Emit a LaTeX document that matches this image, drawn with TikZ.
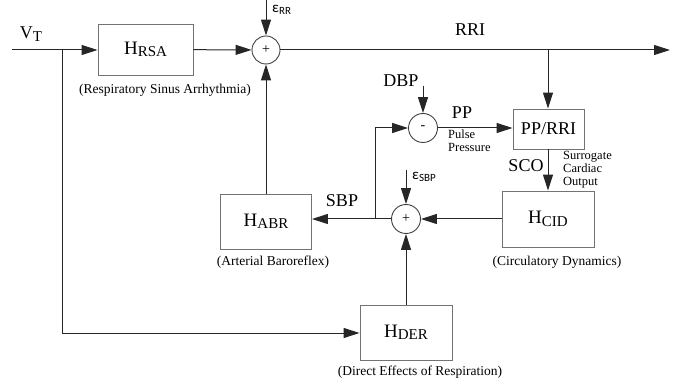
\documentclass[tikz,border=0pt]{standalone}
\usepackage{fontspec}
\setmainfont{Liberation Serif}
\newfontfamily\epsfont{Carlito}
\usetikzlibrary{arrows.meta}
\newcommand\blklbl[2]{#1\raisebox{-2.5pt}{\fontsize{15}{15}\selectfont #2}}
\newcommand\epslbl[1]{{\epsfont\fontsize{15}{15}\selectfont ε\raisebox{-2pt}{\fontsize{11}{11}\selectfont #1}}}
\begin{document}
\begin{tikzpicture}[x=1pt,y=-1pt,
  blk/.style={draw=black!55, line width=0.9pt, minimum width=92pt, minimum height=55pt, inner sep=0pt, font=\fontsize{19}{19}\selectfont},
  sumc/.style={circle, draw=black!75, line width=0.9pt, minimum size=29pt, inner sep=0pt, font=\fontsize{14}{14}\selectfont},
  conn/.style={draw=black!85, line width=1pt},
  arr/.style={conn, -{Triangle[length=16pt,width=10pt]}},
  captxt/.style={font=\fontsize{13.5}{13.5}\selectfont, inner sep=0pt},
  sig/.style={font=\fontsize{18}{18}\selectfont, inner sep=0pt},
  smalltxt/.style={font=\fontsize{12.5}{13}\selectfont, align=left, inner sep=0pt}
]
\useasboundingbox (0,0) rectangle (685,387);
% blocks
\node[blk, minimum width=95pt, minimum height=51pt] (hrsa) at (145.5,49.5) {\blklbl{H}{RSA}};
\node[sumc, minimum size=28pt] (s1) at (266,50) {+};
\node[sumc] (s3) at (423,128) {-};
\node[blk, minimum width=71pt, minimum height=40pt, font=\fontsize{18}{18}\selectfont] (pprri) at (548.5,129) {PP/RRI};
\node[sumc] (s2) at (406,219) {+};
\node[blk, minimum width=91pt] (habr) at (266,221.5) {\blklbl{H}{ABR}};
\node[blk, minimum width=92pt, minimum height=56pt] (hcid) at (548,219) {\blklbl{H}{CID}};
\node[blk] (hder) at (406,332.5) {\blklbl{H}{DER}};
% coordinates
\coordinate (vt) at (12,50);
\coordinate (br) at (62,50);
\coordinate (brd) at (62,333);
\coordinate (err) at (266,0);
\coordinate (rriend) at (670,50);
\coordinate (rribr) at (548,50);
\coordinate (dbp) at (423,86);
\coordinate (esbp) at (406,170);
\coordinate (sbpbr) at (375,219);
% connectors
\draw[arr] (vt) -- (vt -| hrsa.west);
\draw[conn] (br) -- (brd);
\draw[arr] (brd) -- (brd -| hder.west);
\draw[arr] (hrsa) -- (s1);
\draw[arr] (err) -- (s1);
\draw[arr] (s1) -- (rriend);
\draw[arr] (rribr) -- (rribr |- pprri.north);
\draw[arr] (habr) -- (s1);
\draw[arr] (dbp) -- (s3);
\draw[arr] (s3) -- (s3 -| pprri.west);
\draw[arr] (pprri.south -| hcid) -- (hcid.north);
\draw[arr] (hcid) -- (s2);
\draw[arr] (esbp) -- (s2);
\draw[arr] (hder) -- (s2);
\draw[arr] (s2) -- (s2 -| habr.east);
\draw[arr] (sbpbr) |- (s3);
% labels
\node[sig] (vtl) at (31,34) {V\raisebox{-3pt}{\fontsize{15}{15}\selectfont T}};
\node[sig] (rril) at (470,30) {RRI};
\node[sig] (dbpl) at (401,81) {DBP};
\node[sig] (ppl) at (462,113) {PP};
\node[smalltxt, anchor=north west] (ppd) at (448,130) {Pulse\\Pressure};
\node[sig] (sbpl) at (342,201) {SBP};
\node[sig] (scol) at (526,166) {SCO};
\node[smalltxt, anchor=north west] (scod) at (563,151) {Surrogate\\Cardiac\\Output};
\node[inner sep=0pt, anchor=west] (errl) at (272,10) {\epslbl{RR}};
\node[inner sep=0pt, anchor=west] (esbpl) at (412,177) {\epslbl{SBP}};
\node[captxt] (hrsac) at (165,90) {(Respiratory Sinus Arrhythmia)};
\node[captxt] (habrc) at (273,262) {(Arterial Baroreflex)};
\node[captxt] (hcidc) at (557,262) {(Circulatory Dynamics)};
\node[captxt] (hderc) at (420,372) {(Direct Effects of Respiration)};
\end{tikzpicture}
\end{document}
